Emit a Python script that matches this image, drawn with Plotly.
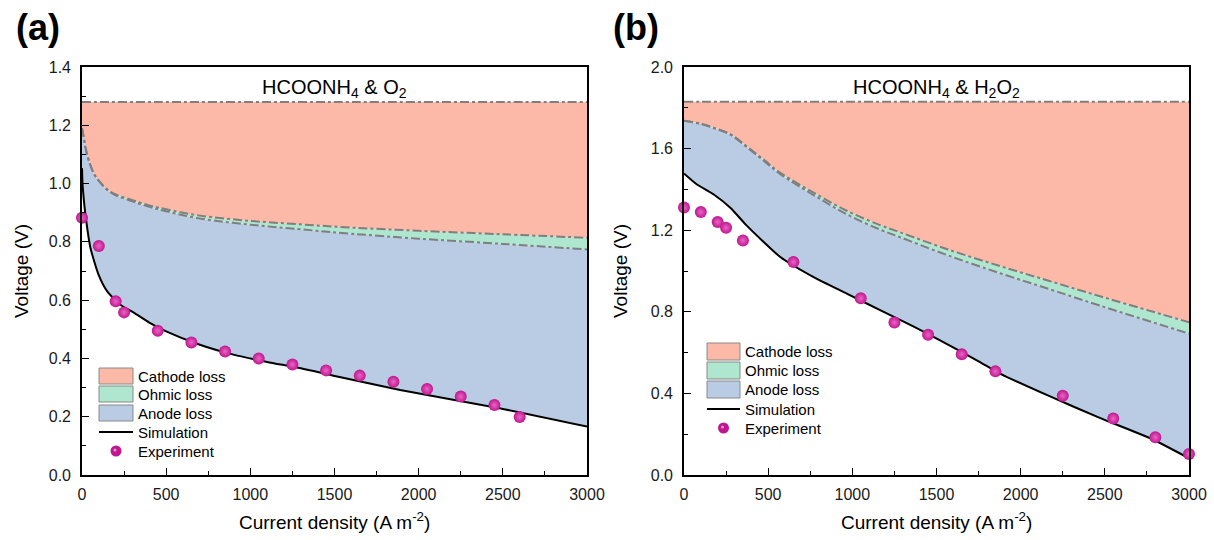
import plotly.graph_objects as go

# ---------------- data ----------------
# Panel (a): HCOONH4 & O2
E_a = 1.28  # top dash-dot level
I_a_bound = [0, 10, 20, 40, 70, 100, 150, 200, 300, 400, 500, 700, 1000, 1300, 1600, 2000, 2500, 3000]
V_a_upper = [1.19, 1.16, 1.125, 1.08, 1.035, 1.01, 0.98, 0.963, 0.943, 0.925, 0.912, 0.89, 0.872, 0.86, 0.849, 0.838, 0.826, 0.814]
V_a_lower = [1.19, 1.16, 1.125, 1.08, 1.034, 1.009, 0.978, 0.96, 0.939, 0.92, 0.905, 0.88, 0.859, 0.843, 0.828, 0.811, 0.793, 0.774]
I_a_sim = [0, 3, 10, 20, 50, 100, 150, 225, 305, 400, 500, 700, 900, 1100, 1300, 1530, 1890, 2480, 3000]
V_a_sim = [1.053, 1.0, 0.95, 0.895, 0.78, 0.685, 0.63, 0.585, 0.558, 0.523, 0.493, 0.447, 0.413, 0.388, 0.366, 0.336, 0.292, 0.229, 0.166]
I_a_exp = [0, 100, 200, 250, 450, 650, 850, 1050, 1250, 1450, 1650, 1850, 2050, 2250, 2450, 2600]
V_a_exp = [0.883, 0.786, 0.596, 0.558, 0.495, 0.455, 0.424, 0.400, 0.379, 0.359, 0.341, 0.320, 0.295, 0.269, 0.240, 0.199]

# Panel (b): HCOONH4 & H2O2
E_b = 1.83
I_b_bound = [0, 100, 175, 275, 370, 470, 570, 770, 970, 1165, 1283, 1560, 1878, 2175, 2472, 3000]
V_b_upper = [1.736, 1.722, 1.703, 1.671, 1.613, 1.548, 1.483, 1.384, 1.294, 1.225, 1.19, 1.108, 1.024, 0.95, 0.876, 0.749]
V_b_lower = [1.736, 1.721, 1.701, 1.668, 1.609, 1.543, 1.476, 1.372, 1.277, 1.203, 1.166, 1.079, 0.989, 0.91, 0.83, 0.693]
I_b_sim = [0, 75, 175, 275, 370, 470, 570, 770, 970, 1165, 1365, 1560, 1750, 1880, 2175, 2470, 2770, 3000]
V_b_sim = [1.478, 1.425, 1.376, 1.31, 1.225, 1.145, 1.07, 0.97, 0.888, 0.808, 0.727, 0.643, 0.557, 0.496, 0.385, 0.28, 0.18, 0.082]
I_b_exp = [0, 100, 200, 250, 350, 650, 1050, 1250, 1450, 1650, 1850, 2250, 2550, 2800, 3000]
V_b_exp = [1.311, 1.289, 1.240, 1.212, 1.150, 1.044, 0.866, 0.747, 0.687, 0.592, 0.508, 0.388, 0.277, 0.185, 0.103]

x_ticks = [0, 500, 1000, 1500, 2000, 2500, 3000]
y_ticks_a = [0.0, 0.2, 0.4, 0.6, 0.8, 1.0, 1.2, 1.4]
y_ticks_b = [0.0, 0.4, 0.8, 1.2, 1.6, 2.0]
legend_labels = ["Cathode loss", "Ohmic loss", "Anode loss", "Simulation", "Experiment"]
panel_titles = ["HCOONH<sub>4</sub> & O<sub>2</sub>", "HCOONH<sub>4</sub> & H<sub>2</sub>O<sub>2</sub>"]

# ---------------- style ----------------
W, H = 1214, 540
C_CATH = "#FCB9A8"
C_OHM = "#AEE6D0"
C_ANO = "#B9CCE4"
C_DASH = "#7F7F7F"
C_EXP = "#C0168F"
FONT = "Liberation Sans, Arial, sans-serif"
DASH = "9px,3px,3px,3px"

fig = go.Figure()


def add_panel(xa, ya, E, I_b, V_up, V_lo, I_s, V_s, I_e, V_e):
    top = [E for _ in I_b]
    # base for anode fill (invisible line)
    fig.add_trace(go.Scatter(x=I_s, y=V_s, mode="lines", line=dict(width=0, color="rgba(0,0,0,0)",
                                                                  shape="spline", smoothing=0.6),
                             xaxis=xa, yaxis=ya, showlegend=False, hoverinfo="skip"))
    fig.add_trace(go.Scatter(x=I_b, y=V_lo, mode="lines", line=dict(width=0, color="rgba(0,0,0,0)", shape="spline"),
                             fill="tonexty", fillcolor=C_ANO,
                             xaxis=xa, yaxis=ya, showlegend=False, hoverinfo="skip"))
    fig.add_trace(go.Scatter(x=I_b, y=V_up, mode="lines", line=dict(width=0, color="rgba(0,0,0,0)", shape="spline"),
                             fill="tonexty", fillcolor=C_OHM,
                             xaxis=xa, yaxis=ya, showlegend=False, hoverinfo="skip"))
    fig.add_trace(go.Scatter(x=I_b, y=top, mode="lines", line=dict(width=0, color="rgba(0,0,0,0)"),
                             fill="tonexty", fillcolor=C_CATH,
                             xaxis=xa, yaxis=ya, showlegend=False, hoverinfo="skip"))
    # dash-dot boundaries
    for yy in (top, V_up, V_lo):
        fig.add_trace(go.Scatter(x=I_b, y=yy, mode="lines",
                                 line=dict(color=C_DASH, width=2, dash=DASH, shape="spline"),
                                 xaxis=xa, yaxis=ya, showlegend=False))
    # simulation
    fig.add_trace(go.Scatter(x=I_s, y=V_s, mode="lines",
                             line=dict(color="black", width=2, shape="spline", smoothing=0.6),
                             xaxis=xa, yaxis=ya, showlegend=False))
    # experiment
    fig.add_trace(go.Scatter(x=I_e, y=V_e, mode="markers", cliponaxis=False,
                             marker=dict(size=12, color=C_EXP, line=dict(width=0),
                                         gradient=dict(type="radial", color="#E866C4")),
                             xaxis=xa, yaxis=ya, showlegend=False))


add_panel("x", "y", E_a, I_a_bound, V_a_upper, V_a_lower, I_a_sim, V_a_sim, I_a_exp, V_a_exp)
add_panel("x2", "y2", E_b, I_b_bound, V_b_upper, V_b_lower, I_b_sim, V_b_sim, I_b_exp, V_b_exp)


def px(x):
    return x / W


def py(y):
    return 1 - y / H


axis_common = dict(showline=True, linecolor="black", linewidth=1.6, mirror=True, ticks="inside",
                   ticklen=7, tickwidth=1.4, tickcolor="black", showgrid=False, zeroline=False,
                   automargin=False,
                   tickfont=dict(family=FONT, size=16, color="#1a1a1a"))

fig.update_layout(
    template="none", autosize=False,
    width=W, height=H, margin=dict(l=0, r=0, t=0, b=0, pad=0, autoexpand=False),
    plot_bgcolor="white", paper_bgcolor="white", showlegend=False,
    xaxis=dict(domain=[px(82), px(587)], range=[0, 3000], tickvals=x_ticks, ticklabelstandoff=4,
               minor=dict(dtick=250, ticks="inside", ticklen=4, tickwidth=1.2, tickcolor="black"),
               anchor="y", **axis_common),
    yaxis=dict(domain=[py(475), py(67)], range=[0, 1.4], tickvals=y_ticks_a, tickformat=".1f",
               ticklabelstandoff=6,
               minor=dict(dtick=0.1, ticks="inside", ticklen=4, tickwidth=1.2, tickcolor="black"),
               anchor="x", **axis_common),
    xaxis2=dict(domain=[px(684), px(1189)], range=[0, 3000], tickvals=x_ticks, ticklabelstandoff=4,
                minor=dict(dtick=250, ticks="inside", ticklen=4, tickwidth=1.2, tickcolor="black"),
                anchor="y2", **axis_common),
    yaxis2=dict(domain=[py(475), py(67)], range=[0, 2.0], tickvals=y_ticks_b, tickformat=".1f",
                ticklabelstandoff=6,
                minor=dict(dtick=0.2, ticks="inside", ticklen=4, tickwidth=1.2, tickcolor="black"),
                anchor="x2", **axis_common),
)

ann = []
shapes = []
# panel labels
for lbl, xc in (("(a)", 38), ("(b)", 636)):
    ann.append(dict(text=f"<b>{lbl}</b>", x=px(xc), y=py(27), xref="paper", yref="paper",
                    showarrow=False, xanchor="center", yanchor="middle",
                    font=dict(family=FONT, size=36, color="black")))
# axis titles
for xc in (21, 620):
    ann.append(dict(text="Voltage (V)", x=px(xc), y=py(271), xref="paper", yref="paper", textangle=-90,
                    showarrow=False, xanchor="center", yanchor="middle",
                    font=dict(family=FONT, size=19, color="black")))
for xc in (334, 936):
    ann.append(dict(text="Current density (A m<sup>-2</sup>)", x=px(xc), y=py(521), xref="paper", yref="paper",
                    showarrow=False, xanchor="center", yanchor="middle",
                    font=dict(family=FONT, size=19, color="black")))
# inner titles
for t, xc in zip(panel_titles, (334, 936)):
    ann.append(dict(text=t, x=px(xc), y=py(88), xref="paper", yref="paper",
                    showarrow=False, xanchor="center", yanchor="middle",
                    font=dict(family=FONT, size=20, color="black")))

# manual legends
legend_specs = [
    dict(x0=99, x1=133, ys=[(368, 384), (386, 402), (405, 421)], y_sim=432, y_exp=451, tx=136),
    dict(x0=707, x1=740, ys=[(343, 360), (362, 379), (381, 398)], y_sim=409, y_exp=428, tx=743),
]
for spec in legend_specs:
    for (y0, y1), col, lab in zip(spec["ys"], (C_CATH, C_OHM, C_ANO), legend_labels[:3]):
        shapes.append(dict(type="rect", xref="paper", yref="paper", x0=px(spec["x0"]), x1=px(spec["x1"]),
                           y0=py(y1), y1=py(y0), fillcolor=col, line=dict(color="#8a8a8a", width=1)))
        ann.append(dict(text=lab, x=px(spec["tx"]), y=py((y0 + y1) / 2), xref="paper", yref="paper",
                        showarrow=False, xanchor="left", yanchor="middle",
                        font=dict(family=FONT, size=15, color="black")))
    shapes.append(dict(type="line", xref="paper", yref="paper", x0=px(spec["x0"]), x1=px(spec["x1"]),
                       y0=py(spec["y_sim"]), y1=py(spec["y_sim"]), line=dict(color="black", width=2)))
    ann.append(dict(text=legend_labels[3], x=px(spec["tx"]), y=py(spec["y_sim"]), xref="paper", yref="paper",
                    showarrow=False, xanchor="left", yanchor="middle",
                    font=dict(family=FONT, size=15, color="black")))
    xc = (spec["x0"] + spec["x1"]) / 2
    shapes.append(dict(type="circle", xref="paper", yref="paper", x0=px(xc - 5.5), x1=px(xc + 5.5),
                       y0=py(spec["y_exp"] + 5.5), y1=py(spec["y_exp"] - 5.5), fillcolor=C_EXP,
                       line=dict(width=0)))
    shapes.append(dict(type="circle", xref="paper", yref="paper", x0=px(xc - 2.5), x1=px(xc + 0.5),
                       y0=py(spec["y_exp"] + 0.5), y1=py(spec["y_exp"] - 2.5), fillcolor="#EE90D2",
                       line=dict(width=0)))
    ann.append(dict(text=legend_labels[4], x=px(spec["tx"]), y=py(spec["y_exp"]), xref="paper", yref="paper",
                    showarrow=False, xanchor="left", yanchor="middle",
                    font=dict(family=FONT, size=15, color="black")))

fig.update_layout(annotations=ann, shapes=shapes)
fig.write_html("out.html", config={"displayModeBar": False},
               post_script="document.body.style.margin='0';document.body.style.padding='0';")
